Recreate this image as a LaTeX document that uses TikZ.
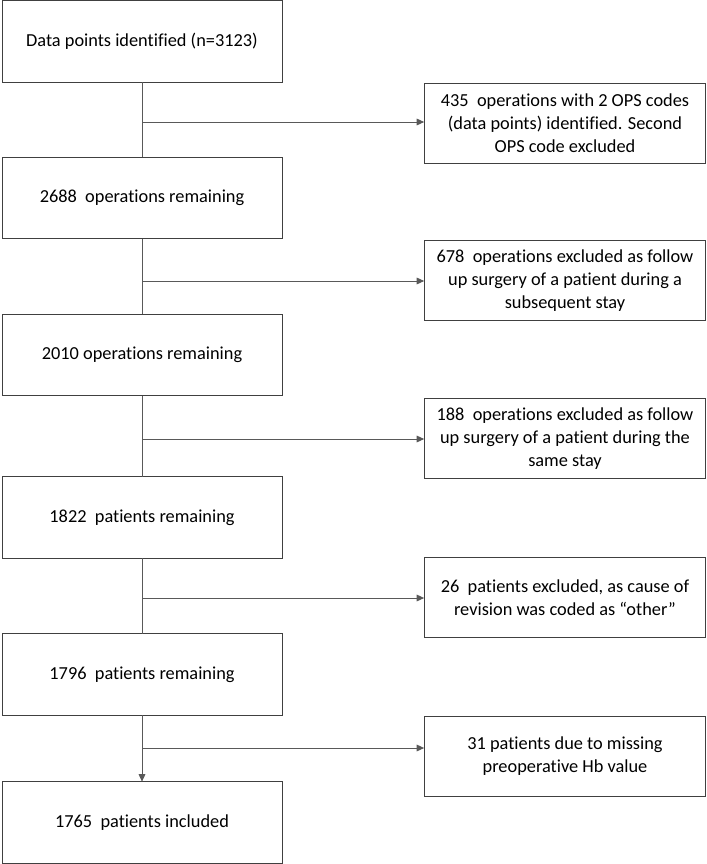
\documentclass[tikz,border=0pt]{standalone}
\usepackage{fontspec}
\setmainfont{Carlito}[RawFeature={-liga;-clig;-calt;-dlig}]
\usepackage{tikz}
\usetikzlibrary{positioning,arrows.meta,calc}

\begin{document}
\begin{tikzpicture}[
    x=0.6pt, y=-0.6pt,
    font=\fontsize{11}{13.7}\selectfont,
    mainbox/.style={
        draw=black!75,
        line width=0.6pt,
        minimum width=168pt,
        minimum height=49pt,
        inner sep=0pt,
        outer sep=0pt,
        align=center
    },
    exclbox/.style={
        draw=black!75,
        line width=0.6pt,
        minimum width=169pt,
        minimum height=48pt,
        inner sep=0pt,
        outer sep=0pt,
        align=center
    },
    flow/.style={draw=black!65, line width=0.6pt},
    arr/.style={flow, -{Triangle[length=4.5pt,width=4pt]}}
]
\useasboundingbox (0,0) rectangle (707,864);

% main column
\node[mainbox] (pts) at (142,41.5) {Data points identified (n=3123)};
\node[mainbox] (ops1) at (142,198) {2688~ operations remaining};
\node[mainbox] (ops2) at (142,355) {2010 operations remaining};
\node[mainbox] (pat1) at (142,517.5) {1822~ patients remaining};
\node[mainbox] (pat2) at (142,674.5) {1796~ patients remaining};
\node[mainbox] (incl) at (142,822.5) {1765~ patients included};

% exclusions
\node[exclbox] (ex1) at (565,123)
{435~ operations with 2 OPS codes\\
(data points) identified. Second\\
OPS code excluded};
\node[exclbox] (ex2) at (565,280.5)
{678~ operations excluded as follow\\
up surgery of a patient during a\\
subsequent stay};
\node[exclbox] (ex3) at (565,438.5)
{188~ operations excluded as follow\\
up surgery of a patient during the\\
same stay};
\node[exclbox] (ex4) at (565,597.5)
{26~ patients excluded, as cause of\\
revision was coded as ``other''};
\node[exclbox] (ex5) at (565,756)
{31 patients due to missing\\
preoperative Hb value};

% branch points
\coordinate (br1) at (143,122);
\coordinate (br2) at (143,281);
\coordinate (br3) at (143,439);
\coordinate (br4) at (143,598);
\coordinate (br5) at (143,748);

\draw[flow] (pts) -- (ops1);
\draw[flow] (ops1) -- (ops2);
\draw[flow] (ops2) -- (pat1);
\draw[flow] (pat1) -- (pat2);
\draw[arr] (pat2) -- (incl);

\draw[arr] (br1) -- (br1 -| ex1.west);
\draw[arr] (br2) -- (br2 -| ex2.west);
\draw[arr] (br3) -- (br3 -| ex3.west);
\draw[arr] (br4) -- (br4 -| ex4.west);
\draw[arr] (br5) -- (br5 -| ex5.west);

\end{tikzpicture}
\end{document}
